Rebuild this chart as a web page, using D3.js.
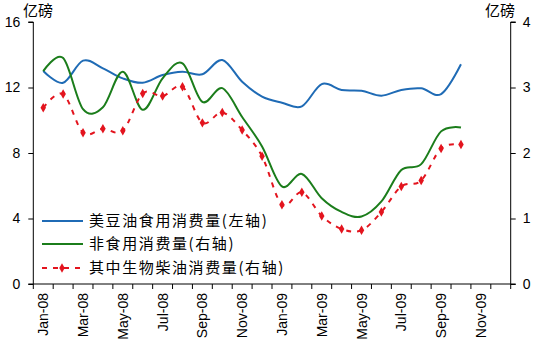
<!DOCTYPE html>
<html><head><meta charset="utf-8">
<script src="https://cdn.jsdelivr.net/npm/d3@7"></script>
<style>body{margin:0;background:#fff}svg{display:block}</style>
</head><body>
<script>
const months = ["Jan-08","Feb-08","Mar-08","Apr-08","May-08","Jun-08","Jul-08","Aug-08","Sep-08","Oct-08","Nov-08","Dec-08",
  "Jan-09","Feb-09","Mar-09","Apr-09","May-09","Jun-09","Jul-09","Aug-09","Sep-09","Oct-09","Nov-09","Dec-09"];
const soyFood = [13.01,12.29,13.64,13.17,12.56,12.29,12.76,12.96,12.81,13.68,12.35,11.44,11.07,10.85,12.21,11.85,11.80,11.50,11.85,11.95,11.60,13.42];
const nonFood = [3.25,3.45,2.67,2.70,3.24,2.66,3.14,3.37,2.78,2.99,2.55,2.10,1.49,1.68,1.31,1.10,1.03,1.26,1.74,1.83,2.33,2.39];
const biodiesel = [2.69,2.90,2.31,2.37,2.34,2.91,2.87,3.01,2.46,2.62,2.35,1.95,1.21,1.40,1.04,0.84,0.82,1.10,1.49,1.58,2.07,2.13];
const leftTicks = [0,4,8,12,16];
const rightTicks = [0,1,2,3,4];
const unitLabel = "亿磅";
const legendNames = ["美豆油食用消费量(左轴)","非食用消费量(右轴)","其中生物柴油消费量(右轴)"];

const W=537,H=353;
const L=33.3,R=510.7,T=22,B=284;
const svg=d3.select("body").append("svg").attr("width",W).attr("height",H);
const x=d3.scaleBand().domain(months).range([L,R]).padding(0);
const yL=d3.scaleLinear().domain([0,16]).range([B,T]);
const yR=d3.scaleLinear().domain([0,4]).range([B,T]);
const cx=i=>x(months[i])+x.bandwidth()/2;
const latin="'Liberation Sans',Arial,sans-serif";
const cjk="'Noto Sans CJK SC','Liberation Sans',sans-serif";

// axes
const axL=d3.axisLeft(yL).tickValues(leftTicks).tickFormat(d3.format("d")).tickSize(5).tickPadding(8);
const gL=svg.append("g").attr("transform",`translate(${L},0)`).call(axL);
const axR=d3.axisRight(yR).tickValues(rightTicks).tickFormat(d3.format("d")).tickSize(5).tickPadding(7);
const gR=svg.append("g").attr("transform",`translate(${R},0)`).call(axR);
const axX=d3.axisBottom(x).tickValues([]).tickSize(0);
const gX=svg.append("g").attr("transform",`translate(0,${B})`).call(axX);
[gL,gR,gX].forEach(g=>{g.selectAll(".domain").attr("stroke","#000").attr("stroke-width",1);
  g.selectAll(".tick line").attr("stroke","#000");
  g.selectAll("text").attr("font-family",latin).attr("font-size",14).attr("fill","#000");});
gL.select(".domain").attr("d",`M-5,${T}H0V${B}H-5`);
gR.select(".domain").attr("d",`M5,${T}H0V${B}H5`);
gX.select(".domain").attr("d",`M${L},0H${R}`);
// x ticks between categories
const bounds=months.map(m=>x(m)).concat([R]);
gX.selectAll(".xt").data(bounds).enter().append("line")
  .attr("x1",d=>d).attr("x2",d=>d).attr("y1",0).attr("y2",5).attr("stroke","#000");
gX.selectAll(".xl").data(months.filter((m,i)=>i%2===0)).enter().append("text")
  .attr("transform",d=>`translate(${x(d)+x.bandwidth()/2+5},9) rotate(-90)`)
  .attr("text-anchor","end").attr("font-family",latin).attr("font-size",14).attr("fill","#000")
  .text(d=>d);

// unit labels
svg.append("text").attr("x",23).attr("y",16).attr("font-family",cjk).attr("font-size",15).text(unitLabel);
svg.append("text").attr("x",485).attr("y",16).attr("font-family",cjk).attr("font-size",15).text(unitLabel);

const curve=d3.curveCardinal.tension(0);
const lineL=d3.line().x((d,i)=>cx(i)).y(d=>yL(d)).curve(curve);
const lineR=d3.line().x((d,i)=>cx(i)).y(d=>yR(d)).curve(curve);
const blue="#1F6BB5",green="#1B7D1B",red="#E3141E";
svg.append("path").attr("d",lineL(soyFood)).attr("fill","none").attr("stroke",blue).attr("stroke-width",2);
svg.append("path").attr("d",lineR(nonFood)).attr("fill","none").attr("stroke",green).attr("stroke-width",2);
svg.append("path").attr("d",lineR(biodiesel)).attr("fill","none").attr("stroke",red).attr("stroke-width",2).attr("stroke-dasharray","5,6");
const diamond=d3.symbol().type(d3.symbolDiamond).size(26);
svg.selectAll(".mk").data(biodiesel).enter().append("path")
  .attr("d",diamond).attr("transform",(d,i)=>`translate(${cx(i)},${yR(d)})`).attr("fill",red);

// legend
const ly=[221,244,268];
const cols=[blue,green,red];
legendNames.forEach((n,i)=>{
  const l=svg.append("line").attr("x1",42).attr("x2",83).attr("y1",ly[i]).attr("y2",ly[i]).attr("stroke",cols[i]).attr("stroke-width",2);
  if(i===2){l.attr("stroke-dasharray","5,6");
    svg.append("path").attr("d",diamond).attr("transform",`translate(62,${ly[i]})`).attr("fill",red);}
  svg.append("text").attr("x",89).attr("y",ly[i]+5).attr("font-family",cjk).attr("font-size",15).attr("letter-spacing",1.6).text(n);
});
</script>
</body></html>
